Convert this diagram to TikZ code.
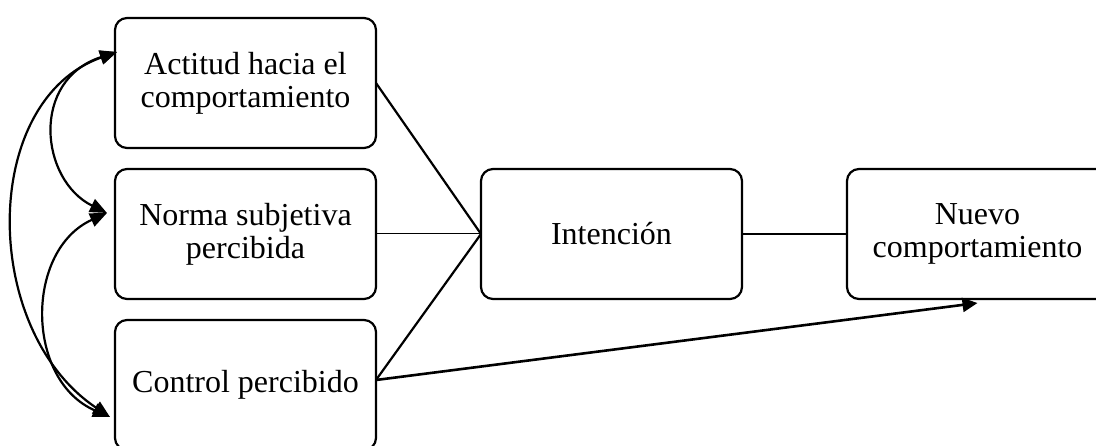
\documentclass[tikz,border=0pt]{standalone}
\usepackage{fontspec}
\setmainfont{Liberation Serif}
\usetikzlibrary{arrows.meta}
\begin{document}
\begin{tikzpicture}[x=1pt,y=-1pt,
  boxnode/.style={draw, line width=2.2pt, rounded corners=12pt, minimum width=261pt, minimum height=130pt,
    inner sep=0pt, outer sep=0pt, align=center, font=\fontsize{32}{33}\selectfont},
  link/.style={line width=2.2pt},
  tip/.style={-{Triangle[length=15pt,width=14pt]}},
  dtip/.style={{Triangle[length=17pt,width=14pt]}-{Triangle[length=17pt,width=14pt]}}
]
\useasboundingbox (0,0) rectangle (1096,446);
\node[boxnode] (b1) at (245.5,83) {Actitud hacia el\\comportamiento};
\node[boxnode] (b2) at (245.5,234) {Norma subjetiva\\percibida};
\node[boxnode] (b3) at (245.5,385) {Control percibido};
\node[boxnode] (int) at (611.5,234) {Intención};
\node[boxnode] (nv) at (977.5,234) {Nuevo\\comportamiento};

\coordinate (t1) at ([xshift=2pt,yshift=-34pt]b1.north west);
\coordinate (t2) at ([xshift=-8pt,yshift=-44pt]b2.north west);
\coordinate (t3) at ([xshift=-5pt,yshift=-97pt]b3.north west);
\coordinate (s3) at ([yshift=5pt]b3.east);
\coordinate (tn) at ([yshift=-4pt]nv.south);

\draw[link] (b1.east) -- (int.west);
\draw[line width=1pt] (b2.east) -- (int.west);
\draw[link] (s3) -- (int.west);
\draw[line width=2.5pt] (int.east) -- (nv.west);
\draw[line width=2.6pt, tip] (s3) -- (tn);

\draw[link, dtip] (t1) .. controls +(-87,28) and +(-67,-33) .. (t2);
\draw[link, dtip] (t1) .. controls +(-137,48) and +(-130,-87) .. (t3);
\draw[link, dtip] (t2) .. controls +(-82,37) and +(-85,-37) .. (t3);
\end{tikzpicture}
\end{document}
